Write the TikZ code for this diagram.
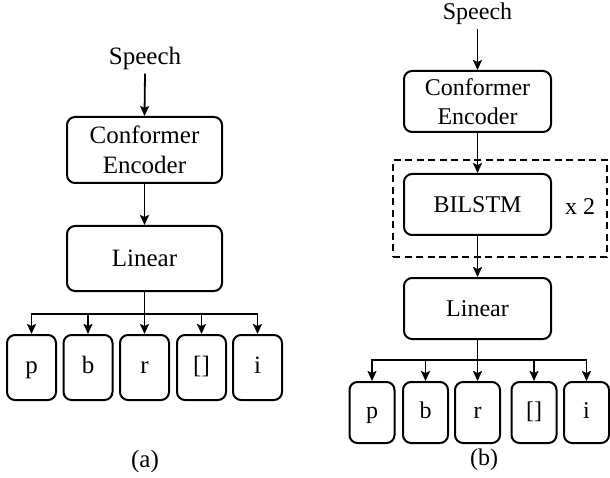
\documentclass[tikz,border=0pt]{standalone}
\usepackage{fontspec}
\setmainfont{Liberation Serif}
\usetikzlibrary{arrows.meta}
\begin{document}
\begin{tikzpicture}[x=1pt,y=-1pt,
  blk/.style={draw, line width=2pt, rounded corners=8pt, align=center, inner sep=0pt},
  outb/.style={blk, text height=17pt, text depth=5pt},
  lbl/.style={inner sep=0pt},
  conn/.style={line width=1.8pt, -{Stealth[length=10pt,width=9pt,inset=2pt]}},
  dashbox/.style={draw, line width=1.9pt, dash pattern=on 7pt off 4.5pt}]
\useasboundingbox (0,0) rectangle (610,478);
% ---------- panel (a) ----------
\begin{scope}[font=\fontsize{25}{30}\selectfont]
\node[lbl] (spA) at (145,58) {Speech};
\node[blk, minimum width=155pt, minimum height=66pt] (confA) at (144.5,150) {Conformer\\Encoder};
\node[blk, minimum width=155pt, minimum height=65pt] (linA) at (144.5,258.5) {Linear};
\foreach \n/\x/\t in {pA/31.5/p, bA/88/b, rA/144.5/r, eA/201.5/{[]}, iA/257.5/i}
  \node[outb, minimum width=49pt, minimum height=65pt] (\n) at (\x,367.5) {\t};
\node[lbl] (capA) at (145,461) {(a)};
\end{scope}
\coordinate (busA) at (144.5,314);
\draw[conn] ([yshift=-4pt]spA.south) -- (confA.north);
\draw[conn] (confA.south) -- (linA.north);
\draw[conn] (linA.south) -- (rA.north);
\foreach \n in {pA,bA,eA,iA} \draw[conn] (busA) -| (\n.north);
% ---------- panel (b) ----------
\begin{scope}[font=\fontsize{24}{29}\selectfont]
\node[lbl] (spB) at (477.5,14) {Speech};
\node[blk, minimum width=147pt, minimum height=61pt] (confB) at (477.5,101.5) {Conformer\\Encoder};
\node[blk, minimum width=147pt, minimum height=61pt] (bil) at (477.5,204.5) {BILSTM};
\node[lbl] (x2) at (580,207) {x 2};
\node[blk, minimum width=147pt, minimum height=61pt] (linB) at (477.5,308.5) {Linear};
\foreach \n/\x/\t in {pB/372/p, bB/425.5/b, rB/477.5/r, eB/534/{[]}, iB/586.5/i}
  \node[outb, minimum width=45pt, minimum height=61pt] (\n) at (\x,412.5) {\t};
\node[lbl] (capB) at (484,460) {(b)};
\end{scope}
\node[dashbox, minimum width=214pt, minimum height=97pt, inner sep=0pt] (rep) at (500,208.5) {};
\coordinate (busB) at (477.5,360);
\draw[conn] ([yshift=-4pt]spB.south) -- (confB.north);
\draw[conn] (confB.south) -- (bil.north);
\draw[conn] (bil.south) -- (linB.north);
\draw[conn] (linB.south) -- (rB.north);
\foreach \n in {pB,bB,eB,iB} \draw[conn] (busB) -| (\n.north);
\end{tikzpicture}
\end{document}
